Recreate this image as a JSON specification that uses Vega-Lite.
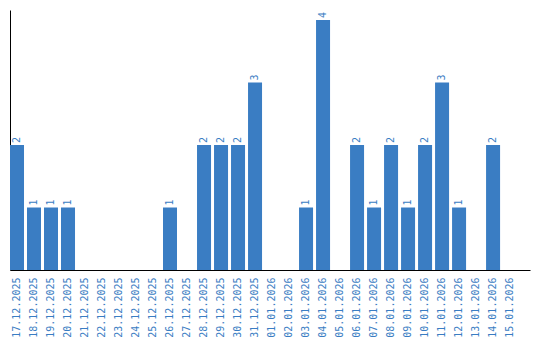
{
  "$schema": "https://vega.github.io/schema/vega-lite/v6.json",
  "width": 520,
  "height": 260,
  "autosize": {"type": "none"},
  "padding": {"left": 10, "top": 10, "right": 10, "bottom": 70},
  "background": "white",
  "config": {"view": {"stroke": null}},
  "data": {"values": [
    {"date": "17.12.2025", "count": 2},
    {"date": "18.12.2025", "count": 1},
    {"date": "19.12.2025", "count": 1},
    {"date": "20.12.2025", "count": 1},
    {"date": "21.12.2025", "count": 0},
    {"date": "22.12.2025", "count": 0},
    {"date": "23.12.2025", "count": 0},
    {"date": "24.12.2025", "count": 0},
    {"date": "25.12.2025", "count": 0},
    {"date": "26.12.2025", "count": 1},
    {"date": "27.12.2025", "count": 0},
    {"date": "28.12.2025", "count": 2},
    {"date": "29.12.2025", "count": 2},
    {"date": "30.12.2025", "count": 2},
    {"date": "31.12.2025", "count": 3},
    {"date": "01.01.2026", "count": 0},
    {"date": "02.01.2026", "count": 0},
    {"date": "03.01.2026", "count": 1},
    {"date": "04.01.2026", "count": 4},
    {"date": "05.01.2026", "count": 0},
    {"date": "06.01.2026", "count": 2},
    {"date": "07.01.2026", "count": 1},
    {"date": "08.01.2026", "count": 2},
    {"date": "09.01.2026", "count": 1},
    {"date": "10.01.2026", "count": 2},
    {"date": "11.01.2026", "count": 3},
    {"date": "12.01.2026", "count": 1},
    {"date": "13.01.2026", "count": 0},
    {"date": "14.01.2026", "count": 2},
    {"date": "15.01.2026", "count": 0}
  ]},
  "encoding": {
    "x": {
      "field": "date", "type": "ordinal", "sort": null,
      "scale": {"paddingInner": 0.176, "paddingOuter": 0.38, "align": 0},
      "axis": {
        "title": null, "ticks": false, "labelAngle": -90, "labelPadding": 7,
        "labelFont": "DejaVu Sans Mono", "labelFontSize": 10, "labelColor": "#3a7dc3",
        "domainColor": "#000000", "domainWidth": 1, "grid": false
      }
    },
    "y": {
      "field": "count", "type": "quantitative",
      "scale": {"domain": [0, 4.16], "nice": false},
      "axis": {
        "title": null, "ticks": false, "labels": false, "grid": false,
        "domainColor": "#000000", "domainWidth": 1
      }
    }
  },
  "layer": [
    {"mark": {"type": "bar", "color": "#3a7dc3"}},
    {
      "transform": [{"filter": "datum.count > 0"}],
      "mark": {"type": "text", "angle": -90, "align": "left", "baseline": "middle", "dx": 2,
               "font": "DejaVu Sans Mono", "fontSize": 10, "color": "#3a7dc3"},
      "encoding": {"text": {"field": "count", "type": "quantitative"}}
    }
  ]
}
